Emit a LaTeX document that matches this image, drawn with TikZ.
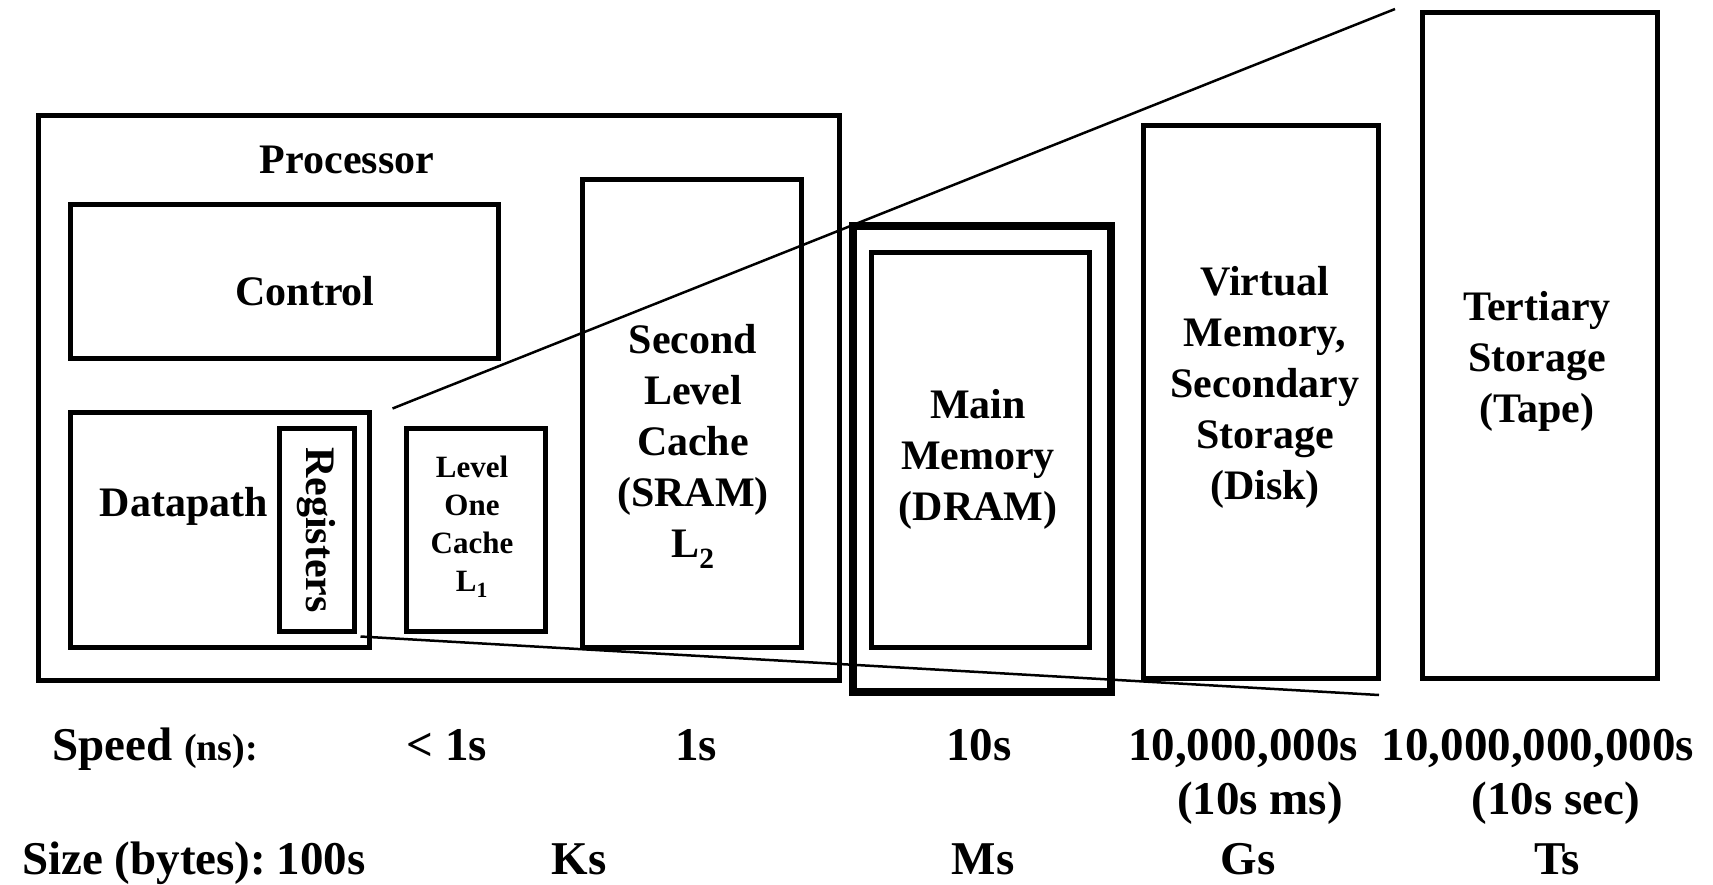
\documentclass[tikz,border=0pt]{standalone}
\usepackage{fontspec}
\setmainfont{Liberation Serif}
\usetikzlibrary{positioning,calc}

\begin{document}
\begin{tikzpicture}[x=1pt, y=-1pt,
    font=\bfseries\fontsize{42}{51}\selectfont,
    box/.style={draw, line width=5pt, inner sep=0pt},
    bigbox/.style={draw, line width=8pt, inner sep=0pt},
    lbl/.style={align=center, inner sep=0pt},
    small/.style={align=center, inner sep=0pt, font=\bfseries\fontsize{31}{38}\selectfont},
    row/.style={anchor=base, inner sep=0pt, font=\bfseries\fontsize{47}{54}\selectfont},
    zoom/.style={line width=2.5pt}
]
\useasboundingbox (0,0) rectangle (1713,884);

% processor and its parts
\node[box, minimum width=801pt, minimum height=565pt] (proc) at (438.5,397.5) {};
\node[box, minimum width=428pt, minimum height=154pt] (ctrl) at (284,281) {};
\node[box, minimum width=299pt, minimum height=235pt] (dp) at (219.5,529.5) {};
\node[box, minimum width=75pt, minimum height=203pt] (regs) at (316.5,529.5) {};
\node[box, minimum width=139pt, minimum height=203pt] (lone) at (475.5,529.5) {};
\node[box, minimum width=219pt, minimum height=468pt] (ltwo) at (691.5,413) {};

% memories
\node[bigbox, minimum width=258pt, minimum height=466pt] (dramout) at (982,459) {};
\node[box, minimum width=218pt, minimum height=395pt] (dram) at (980,449.5) {};
\node[box, minimum width=235pt, minimum height=553pt] (disk) at (1260.5,401.5) {};
\node[box, minimum width=235pt, minimum height=666pt] (tape) at (1539.5,345) {};

% labels
\node[lbl] (proclbl) at (347,160) {Processor};
\node[lbl] (ctrllbl) at (305,291) {Control};
\node[lbl] (dplbl) at (184,506) {Datapath};
\node[lbl, rotate=-90] (regslbl) at (316.5,530) {Registers};
\node[small] (lonelbl) at (472,527) {Level\\One\\Cache\\L\textsubscript{1}};
\node[lbl] (ltwolbl) at (693,446) {Second\\Level\\Cache\\(SRAM)\\L\textsubscript{2}};
\node[lbl] (dramlbl) at (978,459) {Main\\Memory\\(DRAM)};
\node[lbl] (disklbl) at (1265,387) {Virtual\\Memory,\\Secondary\\Storage\\(Disk)};
\node[lbl] (tapelbl) at (1537,361) {Tertiary\\Storage\\(Tape)};

% zoom lines
\coordinate (zfrom) at ($(dp.north east)+(21,-1)$);
\coordinate (zto) at (1395,9);
\coordinate (zfrom2) at ($(regs.south east)+(4,3)$);
\coordinate (zto2) at (1379,695);
\draw[zoom] (zfrom) -- (zto);
\draw[zoom] (zfrom2) -- (zto2);

% speed and size rows
\node[row, anchor=base west] (speed) at (52,760) {Speed {\fontsize{38}{40}\selectfont(ns):}};
\node[row] (sp1) at (447,760) {< 1s};
\node[row] (sp2) at (696,760) {1s};
\node[row] (sp3) at (979,760) {10s};
\node[row] (sp4) at (1243,760) {10,000,000s};
\node[row] (sp5) at (1538,760) {10,000,000,000s};
\node[row] (sp4b) at (1260,814) {(10s ms)};
\node[row] (sp5b) at (1556,814) {(10s sec)};
\node[row, anchor=base west] (size) at (22,874) {Size (bytes):};
\node[row] (sz1) at (321,874) {100s};
\node[row] (sz2) at (579,874) {Ks};
\node[row] (sz3) at (983,874) {Ms};
\node[row] (sz4) at (1248,874) {Gs};
\node[row] (sz5) at (1557,874) {Ts};
\end{tikzpicture}
\end{document}
